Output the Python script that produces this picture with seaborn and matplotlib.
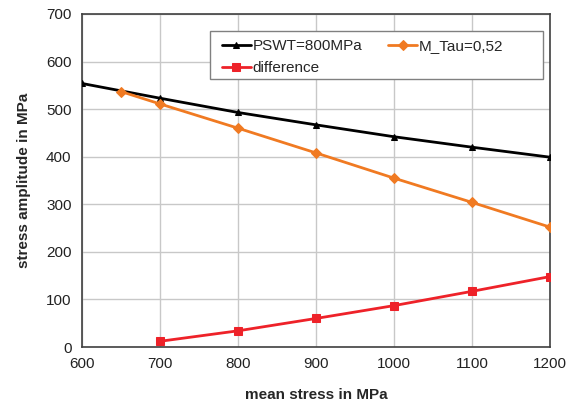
import matplotlib
matplotlib.use("Agg")
import matplotlib.pyplot as plt
from matplotlib.patches import Rectangle
import seaborn as sns
import pandas as pd

x_pswt = [600, 700, 800, 900, 1000, 1100, 1200]
y_pswt = [554, 523, 493, 467, 442, 420, 399]
x_mtau = [650, 700, 800, 900, 1000, 1100, 1200]
y_mtau = [537, 511, 460, 408, 355, 304, 252]
x_diff = [700, 800, 900, 1000, 1100, 1200]
y_diff = [12, 34, 60, 87, 117, 148]

labels = ["PSWT=800MPa", "M_Tau=0,52", "difference"]
colors = ["#000000", "#f07a22", "#ee2229"]
markers = ["^", "D", "s"]
msizes = [5, 5, 6]

sns.set_style("white")
plt.rcParams['font.family'] = ['Liberation Sans', 'DejaVu Sans']

fig = plt.figure(figsize=(5.69, 4.08), dpi=100)
ax = fig.add_axes([0.144, 0.1495, 0.8226, 0.8162])

series = [(x_pswt, y_pswt), (x_mtau, y_mtau), (x_diff, y_diff)]
for (xs, ys), lab, c, m, ms in zip(series, labels, colors, markers, msizes):
    df = pd.DataFrame({"x": xs, "y": ys})
    sns.lineplot(data=df, x="x", y="y", ax=ax, color=c, marker=m, markersize=ms,
                 markeredgecolor=c, linewidth=2, label=lab, zorder=3)

ax.set_xlim(600, 1200)
ax.set_ylim(0, 700)
ax.set_xticks(range(600, 1201, 100))
ax.set_yticks(range(0, 701, 100))
ax.grid(True, color="#c8c8c8", linewidth=1)
ax.set_axisbelow(True)
for s in ax.spines.values():
    s.set_color("#404040")
    s.set_linewidth(1.2)
ax.tick_params(direction="out", length=4, width=1, color="#404040",
               labelsize=11, labelcolor="#222222")
ax.set_xlabel("mean stress in MPa", fontsize=11, fontweight="bold", labelpad=12)
ax.set_ylabel("stress amplitude in MPa", fontsize=11, fontweight="bold", labelpad=11)

# legend box (frame drawn separately so it can be as wide as the original)
frame = Rectangle((0.2735, 0.805), 0.7115, 0.144, transform=ax.transAxes,
                  facecolor="white", edgecolor="#808080", linewidth=1, zorder=4.5)
ax.add_patch(frame)

handles, labs = ax.get_legend_handles_labels()
order = [0, 2, 1]
leg = ax.legend([handles[i] for i in order], [labs[i] for i in order],
                loc="upper left", bbox_to_anchor=(0.299, 0.925), borderaxespad=0,
                ncol=2, frameon=False, fontsize=11,
                handlelength=1.9, handletextpad=0.1, columnspacing=1.7,
                borderpad=0, labelspacing=0.55)
leg.set_zorder(5)

fig.savefig("out.png", dpi=100)
